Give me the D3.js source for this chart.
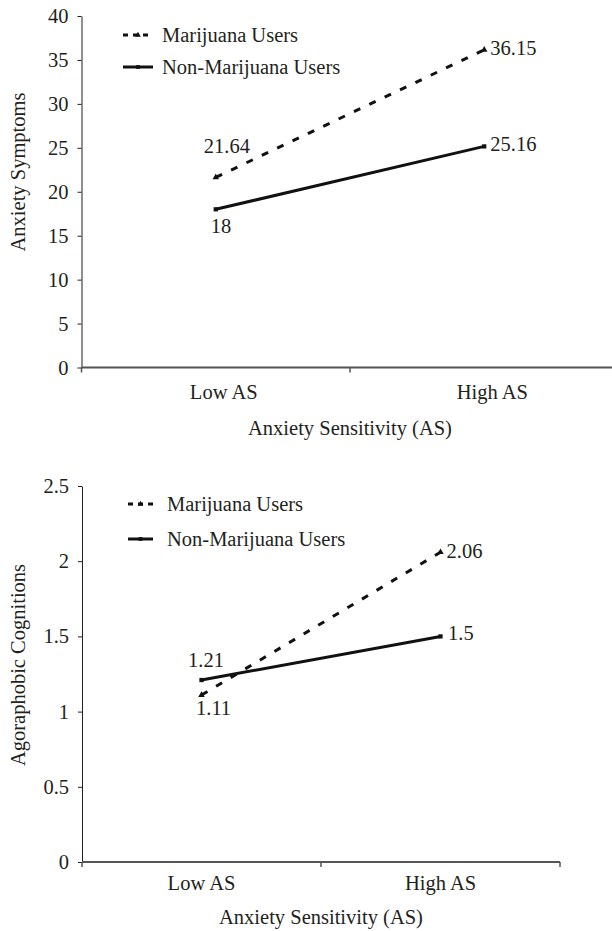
<!DOCTYPE html>
<html>
<head>
<meta charset="utf-8">
<script src="https://cdn.jsdelivr.net/npm/d3@7"></script>
<style>
  body { margin: 0; background: #fff; }
  svg text { font-family: 'Liberation Serif', 'DejaVu Serif', serif !important; fill: #231f20; }
</style>
</head>
<body>
<svg id="chart"></svg>
<script>
var svgWidth = 612, svgHeight = 931;
var serif = "'Liberation Serif', 'DejaVu Serif', serif";

// data
var levels = ['Low AS', 'High AS'];
var seriesNames = ['Marijuana Users', 'Non-Marijuana Users'];
var symptomsMj = [21.64, 36.15],
    symptomsNon = [18, 25.16];
var cognitionsMj = [1.11, 2.06],
    cognitionsNon = [1.21, 1.5];
var symptomTicks = [0, 5, 10, 15, 20, 25, 30, 35, 40];
var cognitionTicks = [0, 0.5, 1, 1.5, 2, 2.5];

var svg = d3.select('#chart')
    .attr('width', svgWidth)
    .attr('height', svgHeight)
    .attr('font-family', serif);

function drawPanel(opt) {
    var x = d3.scaleBand().domain(levels).range(opt.xRange).padding(0);
    var y = d3.scaleLinear().domain(opt.yDomain).range(opt.yRange);
    var cx = function (d) { return x(d) + x.bandwidth() / 2; };
    var g = svg.append('g');

    // y axis
    var yAxis = d3.axisLeft(y)
        .tickValues(opt.ticks)
        .tickSize(4)
        .tickSizeOuter(0)
        .tickPadding(9)
        .tickFormat(function (d) { return String(d); });
    var ya = g.append('g')
        .attr('transform', 'translate(' + opt.xRange[0] + ',0)')
        .call(yAxis)
        .attr('font-family', serif);
    ya.selectAll('text').style('font-size', '20.5px');
    ya.select('.domain').attr('stroke', '#231f20');
    ya.selectAll('.tick line').attr('stroke', '#231f20');

    // x axis (category boundaries)
    var y0 = y(0);
    g.append('line')
        .attr('x1', opt.xRange[0]).attr('x2', opt.xRange[1])
        .attr('y1', y0).attr('y2', y0)
        .attr('stroke', '#555').attr('stroke-width', 2);
    var bounds = [opt.xRange[0], x(levels[1]), opt.xRange[1]];
    g.selectAll('.xtick').data(bounds).enter().append('line')
        .attr('x1', function (d) { return d; }).attr('x2', function (d) { return d; })
        .attr('y1', y0).attr('y2', y0 + 5)
        .attr('stroke', '#555').attr('stroke-width', 1.5);
    g.selectAll('.xlab').data(levels).enter().append('text')
        .attr('x', function (d) { return cx(d) + opt.xLabelShift; })
        .attr('y', y0 + opt.xLabelDy)
        .attr('text-anchor', 'middle')
        .style('font-size', '20.5px')
        .text(function (d) { return d; });
    g.append('text')
        .attr('x', x(levels[1]))
        .attr('y', opt.xTitleY)
        .attr('text-anchor', 'middle')
        .style('font-size', '20.5px')
        .text('Anxiety Sensitivity (AS)');
    g.append('text')
        .attr('transform', 'translate(25,' + opt.yTitleY + ') rotate(-90)')
        .attr('text-anchor', 'middle')
        .style('font-size', '20.5px')
        .text(opt.yTitle);

    // lines
    var series = [
        { name: seriesNames[0], values: opt.mj, dash: '7,10', sym: d3.symbolTriangle, labels: opt.mjLabels },
        { name: seriesNames[1], values: opt.non, dash: null, sym: d3.symbolSquare, labels: opt.nonLabels }
    ];
    var line = d3.line()
        .x(function (d, i) { return cx(levels[i]); })
        .y(function (d) { return y(d); });

    series.forEach(function (s, k) {
        g.append('path')
            .datum(s.values)
            .attr('d', line)
            .attr('fill', 'none')
            .attr('stroke', '#111')
            .attr('stroke-width', 3)
            .attr('stroke-dasharray', s.dash);
        g.selectAll('.pt' + k).data(s.values).enter().append('path')
            .attr('d', d3.symbol().type(s.sym).size(18))
            .attr('transform', function (d, i) { return 'translate(' + cx(levels[i]) + ',' + y(d) + ')'; })
            .attr('fill', '#111');
        g.selectAll('.lab' + k).data(s.values).enter().append('text')
            .attr('x', function (d, i) { return cx(levels[i]) + s.labels[i][0]; })
            .attr('y', function (d, i) { return y(d) + s.labels[i][1]; })
            .style('font-size', '20.5px')
            .text(function (d) { return String(d); });

        // legend
        var ly = opt.legendY[k];
        g.append('line')
            .attr('x1', opt.legendX[0]).attr('x2', opt.legendX[1])
            .attr('y1', ly).attr('y2', ly)
            .attr('stroke', '#111').attr('stroke-width', 3)
            .attr('stroke-dasharray', s.dash ? '5,5' : null);
        g.append('path')
            .attr('d', d3.symbol().type(s.sym).size(14))
            .attr('transform', 'translate(' + (opt.legendX[0] + opt.legendX[1]) / 2 + ',' + ly + ')')
            .attr('fill', '#111');
        g.append('text')
            .attr('x', opt.legendX[2])
            .attr('y', ly + 7)
            .style('font-size', '20.5px')
            .text(s.name);
    });
}

drawPanel({
    xRange: [81.5, 618.5], yRange: [367.5, 16], yDomain: [0, 40], ticks: symptomTicks,
    mj: symptomsMj, non: symptomsNon,
    mjLabels: [[-12, -24], [6, 5]], nonLabels: [[-5, 24], [6, 5]],
    xLabelShift: 8, xLabelDy: 31, xTitleY: 435,
    yTitle: 'Anxiety Symptoms', yTitleY: 172,
    legendX: [123, 153, 162], legendY: [35, 67]
});

drawPanel({
    xRange: [82, 560], yRange: [862, 486], yDomain: [0, 2.5], ticks: cognitionTicks,
    mj: cognitionsMj, non: cognitionsNon,
    mjLabels: [[-5.5, 20], [6, 6]], nonLabels: [[-13.5, -13.5], [7.5, 4]],
    xLabelShift: 0, xLabelDy: 28, xTitleY: 924,
    yTitle: 'Agoraphobic Cognitions', yTitleY: 665,
    legendX: [128, 153, 167], legendY: [504, 539]
});
</script>
</body>
</html>
